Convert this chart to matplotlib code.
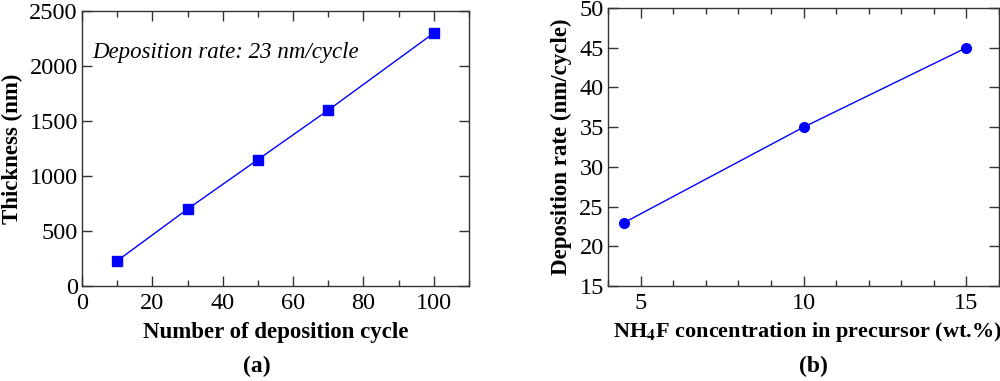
import matplotlib
matplotlib.use('Agg')
import matplotlib.pyplot as plt
from matplotlib.ticker import MultipleLocator

plt.rcParams['font.family'] = ['Liberation Serif', 'DejaVu Serif']
plt.rcParams['mathtext.fontset'] = 'stix'

# (a) thickness vs number of cycles
cycles = [10, 30, 50, 70, 100]
thickness = [230, 700, 1150, 1600, 2300]

# (b) deposition rate vs NH4F concentration
conc = [4.5, 10, 15]
rate = [23, 35, 45]

fig = plt.figure(figsize=(10, 3.81), dpi=100)
ax1 = fig.add_axes([0.082, 0.249, 0.387, 0.722])
ax2 = fig.add_axes([0.608, 0.249, 0.391, 0.730])

spine_col = '#333333'
for ax in (ax1, ax2):
    for s in ax.spines.values():
        s.set_color(spine_col)
        s.set_linewidth(1.0)
    ax.tick_params(axis='both', which='both', direction='in', colors=spine_col,
                   labelcolor='black', labelsize=17.5, width=1.0)
    ax.tick_params(axis='x', which='major', length=7, top=True, bottom=True, pad=5)
    ax.tick_params(axis='x', which='minor', length=4, top=True, bottom=True)
    ax.tick_params(axis='y', which='major', length=7, left=True, right=True, pad=3)

# 图 (a)
ax1.plot(cycles, thickness, color='blue', lw=1, marker='s', ms=6.5, mfc='blue', mec='blue')
ax1.set_xlim(0, 110)
ax1.set_ylim(0, 2500)
ax1.xaxis.set_major_locator(MultipleLocator(20))
ax1.xaxis.set_minor_locator(MultipleLocator(10))
ax1.yaxis.set_major_locator(MultipleLocator(500))
ax1.set_xlabel('Number of deposition cycle', fontsize=16.5, fontweight='bold', va='center')
ax1.set_ylabel('Thickness (nm)', fontsize=16.5, fontweight='bold', va='center')
ax1.xaxis.set_label_coords(0.5, -0.167)
ax1.yaxis.set_label_coords(-0.18, 0.5)
ax1.text(3.0, 2120, 'Deposition rate: 23 nm/cycle', fontsize=16.5, style='italic', va='center')

# 图 (b)
ax2.plot(conc, rate, color='blue', lw=1, marker='o', ms=7, mfc='blue', mec='blue')
ax2.set_xlim(4, 16)
ax2.set_ylim(15, 50)
ax2.xaxis.set_major_locator(MultipleLocator(5))
ax2.xaxis.set_minor_locator(MultipleLocator(1))
ax2.yaxis.set_major_locator(MultipleLocator(5))
ax2.set_xlabel(r'NH$_\mathbf{4}$F concentration in precursor (wt.%)', fontsize=16,
               fontweight='bold', va='center')
ax2.set_ylabel('Deposition rate (nm/cycle)', fontsize=16.5, fontweight='bold', va='center')
ax2.xaxis.set_label_coords(0.51, -0.166)
ax2.yaxis.set_label_coords(-0.118, 0.5)

fig.text(0.257, 0.037, '(a)', fontsize=17, fontweight='bold', ha='center', va='center')
fig.text(0.813, 0.037, '(b)', fontsize=17, fontweight='bold', ha='center', va='center')

fig.savefig('out.png', dpi=100)
